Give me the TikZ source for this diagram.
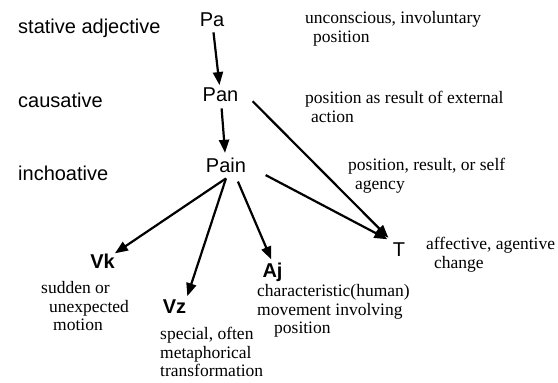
\documentclass[tikz,border=0pt]{standalone}
\usepackage{fontspec}
\setmainfont{Liberation Serif}
\setsansfont{Liberation Sans}
\usetikzlibrary{arrows.meta}

\begin{document}
\begin{tikzpicture}[x=1pt,y=-1pt,
      form/.style={font=\sffamily\fontsize{20}{24}\selectfont,inner sep=0pt,anchor=base},
      derived/.style={form,font=\sffamily\bfseries\fontsize{20}{24}\selectfont},
      category/.style={font=\sffamily\fontsize{20}{24}\selectfont,inner sep=0pt,anchor=base west},
      gloss/.style={font=\fontsize{17.5}{18.7}\selectfont,align=left,inner sep=0pt,anchor=north west},
      deriv/.style={-{Triangle[length=13pt,width=10pt]},line width=2.2pt}
      ]
      \useasboundingbox (0,0) rectangle (558,383);

      % levels
      \node[category] (stative) at (18,33) {stative adjective};
      \node[category] (causative) at (18,107) {causative};
      \node[category] (inchoative) at (18,180) {inchoative};

      % forms
      \node[form] (pa) at (212,26) {Pa};
      \node[form] (pan) at (220.5,101) {Pan};
      \node[form] (pain) at (226,172) {Pain};
      \node[derived] (vk) at (102.5,268) {Vk};
      \node[derived] (vz) at (174.5,313) {Vz};
      \node[derived] (aj) at (272.5,277) {Aj};
      \node[form] (t) at (399,256) {T};

      % meanings
      \node[gloss] (glosspa) at (305,11) {unconscious, involuntary\\\hspace*{8pt}position};
      \node[gloss] (glosspan) at (305,91) {position as result of external\\\hspace*{6pt}action};
      \node[gloss] (glosspain) at (348,158) {position, result, or self\\\hspace*{7pt}agency};
      \node[gloss] (glosst) at (426,237) {affective, agentive\\\hspace*{8pt}change};
      \node[gloss] (glossvk) at (41,281) {sudden or\\\hspace*{8pt}unexpected\\\hspace*{12pt}motion};
      \node[gloss] (glossvz) at (160,327) {special, often\\metaphorical\\transformation};
      \node[gloss] (glossaj) at (257,284) {characteristic(human)\\movement involving\\\hspace*{17pt}position};

      % derivations
      \draw[deriv,shorten <=6pt,shorten >=2pt] (pa) -- (pan);
      \draw[deriv,shorten <=7pt,shorten >=4.5pt] (pan) -- (pain);
      \draw[deriv,shorten <=20pt,shorten >=6pt] (pan.north east) -- (t.north west);
      \draw[deriv,shorten <=22pt,shorten >=6pt] (pain.east) -- (t.north west);
      \draw[deriv] ([yshift=-6pt]pain.south) -- (vk.north east);
      \draw[deriv,shorten >=3pt] ([yshift=-6pt]pain.south) -- (vz.north east);
      \draw[deriv,shorten <=10pt,shorten >=3pt] ([xshift=8pt]pain.south) -- (aj.north);
    \end{tikzpicture}
\end{document}
